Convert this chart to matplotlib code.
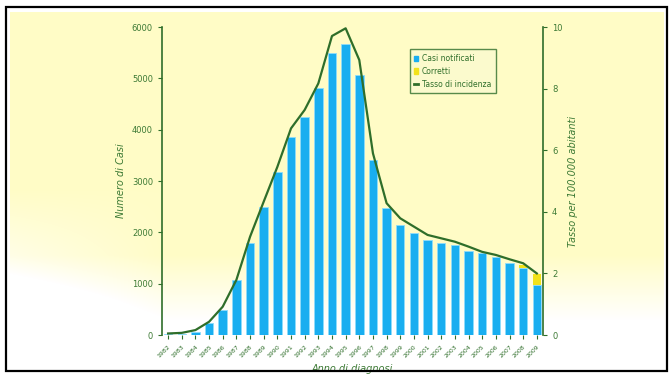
import numpy as np
import matplotlib.pyplot as plt
from matplotlib.patches import Rectangle, Patch
from matplotlib.lines import Line2D

# --- data ---
years = list(range(1982, 2010))
casi_notificati = [15, 25, 60, 228, 487, 1071, 1786, 2490, 3182, 3864, 4253, 4805,
                   5487, 5669, 5065, 3409, 2470, 2143, 1981, 1851, 1786, 1753,
                   1642, 1591, 1513, 1396, 1299, 974]
corretti = [0] * 26 + [60, 210]
tasso = [0.05, 0.07, 0.16, 0.43, 0.92, 1.79, 3.19, 4.33, 5.46, 6.71, 7.31, 8.17,
         9.71, 9.96, 8.93, 5.9, 4.28, 3.79, 3.52, 3.25, 3.14, 3.03, 2.87, 2.70,
         2.60, 2.46, 2.33, 2.0]

green = '#2f6e2a'
text_green = '#3d7a35'
bar_blue = '#19aef0'
yellow = '#f2e21a'

fig = plt.figure(figsize=(6.72, 3.76), dpi=100)

# background: pale yellow, fading to white at the bottom (earlier on the left)
bg = fig.add_axes([0, 0, 1, 1])
H, W = 376, 672
yy, xx = np.mgrid[0:H, 0:W].astype(float)
fade = np.clip((yy - 255) / 65, 0, 1) + np.clip((yy - 190) / 110, 0, 1) * np.clip((170 - xx) / 170, 0, 1)
fade = np.clip(fade, 0, 1)
inside = (yy > 11) & (yy < 368) & (xx > 9) & (xx < 664)
fade[~inside] = 1
top = np.array([1.0, 0.99, 0.78])
white = np.array([1.0, 1.0, 1.0])
img = top[None, None, :] * (1 - fade[..., None]) + white[None, None, :] * fade[..., None]
bg.imshow(img, origin='upper', aspect='auto', extent=[0, W, H, 0])
bg.set_xlim(0, W)
bg.set_ylim(H, 0)
bg.set_axis_off()

# outer black frame
fig.patches.append(Rectangle((6 / 672, 5 / 376), 661 / 672, 364 / 376,
                             transform=fig.transFigure, fill=False,
                             edgecolor='black', linewidth=1.6))

ax = fig.add_axes([0.241, 0.109, 0.567, 0.819])
ax.patch.set_alpha(0)
x = np.arange(len(years))
ax.bar(x, casi_notificati, width=0.62, color=bar_blue, edgecolor='#8fdcfb',
       linewidth=0.6, zorder=2)
ax.bar(x, corretti, width=0.62, bottom=casi_notificati, color=yellow,
       edgecolor='none', zorder=2)
ax.set_xlim(-0.45, len(years) - 0.55)
ax.set_ylim(0, 6000)
ax.set_yticks(range(0, 6001, 1000))

for s in ['top', 'right', 'bottom']:
    ax.spines[s].set_visible(False)
ax.spines['left'].set_color(green)
ax.spines['left'].set_linewidth(1.2)
ax.tick_params(axis='y', colors=green, labelcolor=text_green, labelsize=6,
               length=3, direction='out')
ax.set_xticks(x)
ax.set_xticklabels([str(y) for y in years], rotation=45, ha='right',
                   rotation_mode='anchor', fontsize=4.5, color='#6a9a60')
ax.tick_params(axis='x', colors=green, length=3, direction='out')
ax.set_ylabel('Numero di Casi', color=text_green, fontsize=7, style='italic')
ax.set_xlabel('Anno di diagnosi', color=text_green, fontsize=7, style='italic',
              labelpad=4)

ax2 = ax.twinx()
ax2.plot(x, tasso, color=green, linewidth=1.6, zorder=3)
ax2.set_ylim(0, 10)
ax2.set_yticks([0, 2, 4, 6, 8, 10])
for s in ['top', 'left', 'bottom']:
    ax2.spines[s].set_visible(False)
ax2.spines['right'].set_color(green)
ax2.spines['right'].set_linewidth(1.2)
ax2.tick_params(axis='y', colors=green, labelcolor=text_green, labelsize=6,
                length=3)
ax2.set_ylabel('Tasso per 100.000 abitanti', color=text_green, fontsize=7,
               style='italic')

handles = [Patch(color=bar_blue), Patch(color=yellow),
           Line2D([], [], color=green, linewidth=2)]
leg = ax2.legend(handles, ['Casi notificati', 'Corretti', 'Tasso di incidenza'],
                 loc='upper left', bbox_to_anchor=(0.64, 0.94), fontsize=5.5,
                 frameon=True, fancybox=False, handlelength=0.5,
                 handletextpad=0.5, borderpad=0.6, labelspacing=0.5)
leg.get_frame().set_edgecolor(green)
leg.get_frame().set_facecolor('#fbfad0')
leg.get_frame().set_linewidth(1.0)
for t in leg.get_texts():
    t.set_color(green)

fig.savefig('out.png', dpi=100)
